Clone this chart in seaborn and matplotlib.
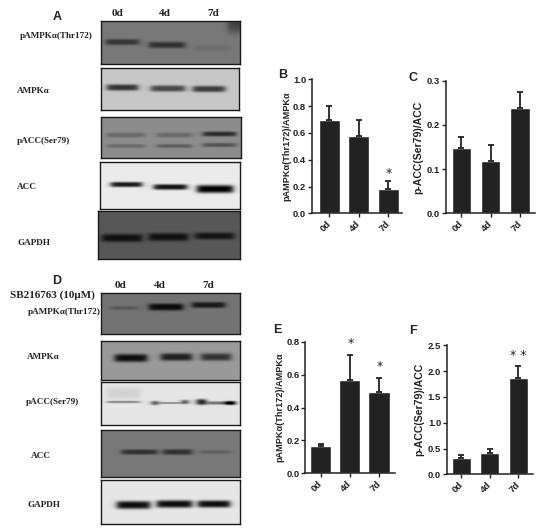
import numpy as np
import pandas as pd
import seaborn as sns
import matplotlib.pyplot as plt
from matplotlib.transforms import ScaledTranslation

# --- Bar chart data ---
days = ["0d", "4d", "7d"]
b_vals = [0.70, 0.58, 0.18]
b_tops = [0.80, 0.70, 0.24]
c_vals = [0.148, 0.118, 0.238]
c_tops = [0.172, 0.154, 0.274]
e_vals = [0.165, 0.565, 0.495]
e_tops = [0.18, 0.72, 0.58]
f_vals = [0.31, 0.41, 1.87]
f_tops = [0.37, 0.49, 2.09]

# --- Band darkness (one value per band) ---
a_pampk = [0.26, 0.28, 0.05, 0.22]
a_ampk = [0.58, 0.50, 0.55]
a_pacc = [0.14, 0.14, 0.13, 0.18, 0.38, 0.22]
a_acc = [0.82, 0.85, 0.92]
a_gapdh = [0.28, 0.28, 0.26]
d_pampk = [0.10, 0.42, 0.36]
d_ampk = [0.55, 0.48, 0.40]
d_pacc = [0.35, 0.35, 0.70, 0.70, 0.45, 0.85, 0.65, 0.08]
d_acc = [0.28, 0.28, 0.10]
d_gapdh = [0.85, 0.85, 0.85]

W, H = 550, 529
sns.set_style("ticks")
plt.rcParams["axes.linewidth"] = 1.0
fig = plt.figure(figsize=(W / 100, H / 100), dpi=100, facecolor="white")


def px_axes(x0, y0, x1, y1):
    return fig.add_axes([x0 / W, 1 - y1 / H, (x1 - x0) / W, (y1 - y0) / H])


def blot(box, bg, bands, dark):
    # box and bands are in figure pixels, bands = (x0, x1, y centre, half thickness)
    x0, y0, x1, y1 = box
    xx, yy = np.meshgrid(np.arange(x0, x1) + 0.5, np.arange(y0, y1) + 0.5)
    img = np.full(xx.shape, float(bg))
    for (bx0, bx1, yc, t), d in zip(bands, dark):
        across = 0.5 * (np.tanh((xx - bx0) / 3.5) - np.tanh((xx - bx1) / 3.5))
        img -= d * across * np.exp(-(np.abs(yy - yc) / t) ** 3)
    ax = px_axes(*box)
    sns.heatmap(pd.DataFrame(img), ax=ax, cmap="gray", vmin=0, vmax=1, cbar=False,
                xticklabels=False, yticklabels=False, rasterized=True)
    ax.tick_params(length=0)
    for s in ax.spines.values():
        s.set_visible(True)
        s.set_color("#1a1a1a")
        s.set_linewidth(1.0)


def label(x, y, txt, size=6.6):
    fig.text(x / W, 1 - y / H, txt, family="Liberation Serif", weight="bold",
             fontsize=size, color="#222222", va="center", ha="left")


def star(x, y, txt):
    # y is where the glyph should appear, the asterisk sits high in its box
    fig.text(x / W, 1 - (y + 2) / H, txt, ha="center", va="center", fontsize=9,
             color="#222222", family="DejaVu Sans")


def bars(box, xlim, ylim, yticks, vals, tops, width, ylab, labx, labsize):
    ax = px_axes(*box)
    df = pd.DataFrame({"day": days, "val": vals})
    sns.barplot(data=df, x="day", y="val", color="#222222", saturation=1, width=width,
                errorbar=None, ax=ax)
    up = [t - v for t, v in zip(tops, vals)]
    ax.errorbar(range(3), vals, yerr=[[0, 0, 0], up], fmt="none", ecolor="#222222",
                elinewidth=1.3, capsize=2.4, capthick=1.3)
    ax.set_xlim(*xlim)
    ax.set_ylim(*ylim)
    ax.set_yticks(yticks)
    ax.set_yticklabels(["%.1f" % t for t in yticks])
    ax.set_xlabel("")
    ax.set_ylabel("")
    ax.patch.set_alpha(0)
    sns.despine(ax=ax)
    for s in ax.spines.values():
        s.set_linewidth(1.1)
        s.set_color("#222222")
    ax.tick_params(axis="y", labelsize=6.8, length=3, width=1.0, pad=1, colors="#222222")
    ax.tick_params(axis="x", labelsize=6.8, length=3, width=1.0, pad=1.5, colors="#222222")
    for t in ax.get_yticklabels() + ax.get_xticklabels():
        t.set_family("Liberation Sans")
        t.set_weight("bold")
    shift = ScaledTranslation(-3 / 100, 0, fig.dpi_scale_trans)
    for t in ax.get_xticklabels():
        t.set_rotation(45)
        t.set_ha("right")
        t.set_rotation_mode("anchor")
        t.set_transform(t.get_transform() + shift)
    fig.text(labx / W, 1 - (box[1] + box[3]) / 2 / H, ylab, rotation=90, family="Liberation Sans",
             weight="bold", fontsize=labsize, color="#222222", va="center", ha="center")
    return ax


# --- Panel A blots ---
blot((101, 21, 240, 64), 0.47, [(106, 139, 42, 3), (149, 185, 45, 3.2), (195, 230, 48, 3), (228, 245, 22, 11)], a_pampk)
blot((101, 68, 239, 110), 0.78, [(107, 138, 87.5, 3.2), (151, 185, 88.5, 3.2), (193, 225, 89, 3.2)], a_ampk)
blot((101, 117, 241, 158), 0.55, [(107, 145, 135, 2.5), (157, 192, 135, 2.5), (107, 145, 146, 2),
                                  (157, 192, 146, 2), (203, 236, 134, 2.5), (203, 236, 145, 2.2)], a_pacc)
blot((100, 162, 240, 209), 0.92, [(111, 142, 184.5, 2.6), (154, 187, 187, 2.8), (197, 233, 189, 4)], a_acc)
blot((98, 211, 240, 259), 0.34, [(102, 142, 238, 4), (149, 188, 237, 4), (195, 234, 236, 3.5)], a_gapdh)

# --- Panel D blots ---
blot((101, 293, 240, 334), 0.45, [(110, 138, 308, 2), (149, 183, 307, 3.5), (192, 225, 305, 3)], d_pampk)
blot((101, 341, 240, 380), 0.60, [(115, 147, 358, 4), (161, 192, 357, 3.8), (201, 231, 357, 3.8)], d_ampk)
blot((101, 382, 240, 425), 0.90, [(107, 140, 402, 1.3), (160, 180, 403, 1.0), (152, 158, 403, 2.2),
                                  (182, 188, 402, 2.2), (208, 235, 403, 1.7), (197, 206, 402, 3),
                                  (226, 235, 403, 2.2), (107, 140, 393, 6)], d_pacc)
blot((101, 430, 240, 477), 0.47, [(122, 157, 452, 2.6), (163, 192, 452, 2.8), (201, 230, 452, 1.8)], d_acc)
blot((101, 480, 240, 524), 0.90, [(117, 150, 505, 4), (157, 192, 504, 3.8), (198, 230, 504, 3.6)], d_gapdh)

# --- Blot labels ---
label(20, 36, "pAMPK\u03b1(Thr172)")
label(17, 91, "AMPK\u03b1")
label(17, 141, "pACC(Ser79)")
label(17, 187, "ACC")
label(17, 243, "GAPDH")
label(28, 312, "pAMPK\u03b1(Thr172)")
label(27, 357, "AMPK\u03b1")
label(26, 402, "pACC(Ser79)")
label(31, 456, "ACC")
label(28, 505, "GAPDH")
label(10, 295, "SB216763 (10\u03bcM)", 8)

for xs, y in [((112, 159, 207), 14), ((115, 154, 202), 286)]:
    for x, d in zip(xs, days):
        label(x, y, d, 8)

# --- Bar panels ---
bars((311.7, 79.3, 401.7, 213.3), (-0.6, 2.456), (0, 1.0), [0, 0.2, 0.4, 0.6, 0.8, 1.0],
     b_vals, b_tops, 0.72, "pAMPK\u03b1(Thr172)/AMPK\u03b1", 287.3, 6.6)
bars((445.7, 80.7, 535, 213.3), (-0.53, 2.51), (0, 0.3), [0, 0.1, 0.2, 0.3],
     c_vals, c_tops, 0.66, "p-ACC(Ser79)/ACC", 418.5, 7.6)
bars((305, 341.7, 395, 473.3), (-0.54, 2.55), (0, 0.8), [0, 0.2, 0.4, 0.6, 0.8],
     e_vals, e_tops, 0.73, "pAMPK\u03b1(Thr172)/AMPK\u03b1", 279.5, 6.6)
bars((446.7, 345.3, 533.3, 474.3), (-0.5, 2.52), (0, 2.5), [0, 0.5, 1.0, 1.5, 2.0, 2.5],
     f_vals, f_tops, 0.66, "p-ACC(Ser79)/ACC", 419, 7.6)

star(388.5, 172, "*")
star(351, 342, "*")
star(379.3, 364.7, "*")
star(518.7, 353.7, "* *")

# --- Panel letters ---
for x, y, s in [(57, 17, "A"), (57, 281, "D"), (283, 75, "B"), (413, 78, "C"), (277, 330, "E"), (413, 331, "F")]:
    fig.text(x / W, 1 - y / H, s, family="Liberation Sans", weight="bold", fontsize=9,
             color="#222222", ha="center", va="center")

fig.savefig("out.png", dpi=100)
